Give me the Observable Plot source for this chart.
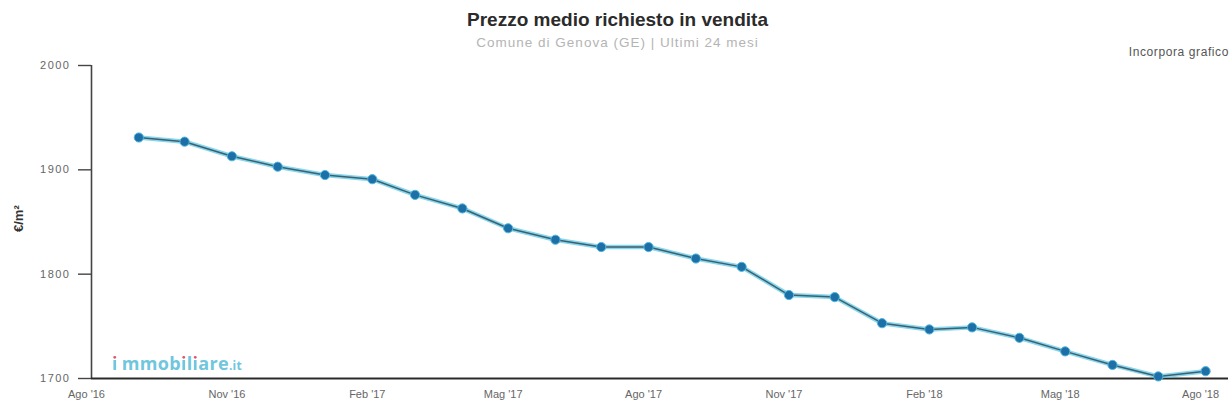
<!DOCTYPE html>
<html><head><meta charset="utf-8">
<script src="https://cdn.jsdelivr.net/npm/d3@7"></script>
<script src="https://cdn.jsdelivr.net/npm/@observablehq/plot@0.6"></script>
<style>
body{margin:0;background:#fff;font-family:"Liberation Sans",Arial,sans-serif;}
#wrap{position:relative;width:1231px;height:419px;overflow:hidden;}
#title{position:absolute;left:2px;width:1231px;top:9px;text-align:center;font-weight:bold;font-size:19px;color:#2b2b2b;}
#subtitle{position:absolute;left:2px;width:1231px;top:35px;text-align:center;font-size:13.5px;color:#b4b4b4;letter-spacing:1px;}
#embed{position:absolute;right:2px;top:45px;font-size:12px;color:#555;letter-spacing:0.6px;}
#logo{position:absolute;left:112px;top:352px;font-family:"Open Sans",sans-serif;font-weight:bold;font-size:18px;color:#6fc6dd;letter-spacing:0.3px;line-height:22px;}
#logo .i{background:linear-gradient(to bottom,#d9536a 0%,#d9536a 36%,#6fc6dd 36%,#6fc6dd 100%);-webkit-background-clip:text;background-clip:text;color:transparent;}
#logo .first{margin-right:4px;}
#logo small{font-size:12px;letter-spacing:0.3px;}
#chart{position:absolute;left:0;top:0;}
#chart svg g[aria-label="y-axis tick label"] text{letter-spacing:1.5px;}
</style>
</head><body>
<div id="wrap">
  <div id="chart"></div>
  <div id="title">Prezzo medio richiesto in vendita</div>
  <div id="subtitle">Comune di Genova (GE) | Ultimi 24 mesi</div>
  <div id="embed">Incorpora grafico</div>
  <div id="logo"><span class="i first">i</span>mmob<span class="i">i</span>l<span class="i">i</span>are<small>.it</small></div>
</div>
<script>
const months = ["2016-09","2016-10","2016-11","2016-12","2017-01","2017-02","2017-03","2017-04","2017-05","2017-06","2017-07","2017-08",
                "2017-09","2017-10","2017-11","2017-12","2018-01","2018-02","2018-03","2018-04","2018-05","2018-06","2018-07","2018-08"];
const prices = [1931,1927,1913,1903,1895,1891,1876,1863,1844,1833,1826,1826,
                1815,1807,1780,1778,1753,1747,1749,1739,1726,1713,1702,1707];
const tickMonths = ["2016-08","2016-11","2017-02","2017-05","2017-08","2017-11","2018-02","2018-05","2018-08"];
const tickLabels = ["Ago '16","Nov '16","Feb '17","Mag '17","Ago '17","Nov '17","Feb '18","Mag '18","Ago '18"];
const yTicks = [1700,1800,1900,2000];
const yLabel = "€/m²";

const data = months.map((m,i)=>({date:new Date(m+"-01T00:00:00Z"), price:prices[i]}));
const tickDates = tickMonths.map(m=>new Date(m+"-01T00:00:00Z"));
const labelOf = new Map(tickDates.map((d,i)=>[+d, tickLabels[i]]));

const chart = Plot.plot({
  width:1231, height:419,
  marginLeft:91, marginRight:3, marginTop:65, marginBottom:41,
  style:{fontFamily:"Liberation Sans, Arial, sans-serif", background:"#fff"},
  x:{type:"utc", domain:[new Date("2016-08-01T00:00:00Z"), new Date("2018-08-16T00:00:00Z")]},
  y:{domain:[1700,2000]},
  marks:[
    Plot.axisY({ticks:yTicks, tickSize:13, tickPadding:8, label:null, fontSize:11, color:"#666", stroke:"#444", strokeWidth:1.4, tickFormat:d=>String(d)}),
    Plot.axisX({ticks:tickDates, tickSize:0, tickPadding:12, dx:-5, label:null, fontSize:11, color:"#666", tickFormat:d=>labelOf.get(+d)}),
    Plot.ruleX([new Date("2016-08-01T00:00:00Z")], {y1:1700, y2:2000, stroke:"#444", strokeWidth:1.6}),
    Plot.ruleY([1700], {stroke:"#2a2a2a", strokeWidth:2.2}),
    Plot.text([yLabel], {frameAnchor:"left", dx:-73, dy:10, rotate:-90, fontSize:13, fontWeight:"bold", fill:"#333"}),
    Plot.lineY(data, {x:"date", y:"price", stroke:"#5cc8ea", strokeWidth:4.5, strokeOpacity:0.75}),
    Plot.lineY(data, {x:"date", y:"price", stroke:"#3f5f6c", strokeWidth:1.5}),
    Plot.dot(data, {x:"date", y:"price", r:4.6, fill:"#1d6fa6", stroke:"#4fb7e0", strokeWidth:1})
  ]
});
document.getElementById("chart").appendChild(chart);
</script>
</body></html>
